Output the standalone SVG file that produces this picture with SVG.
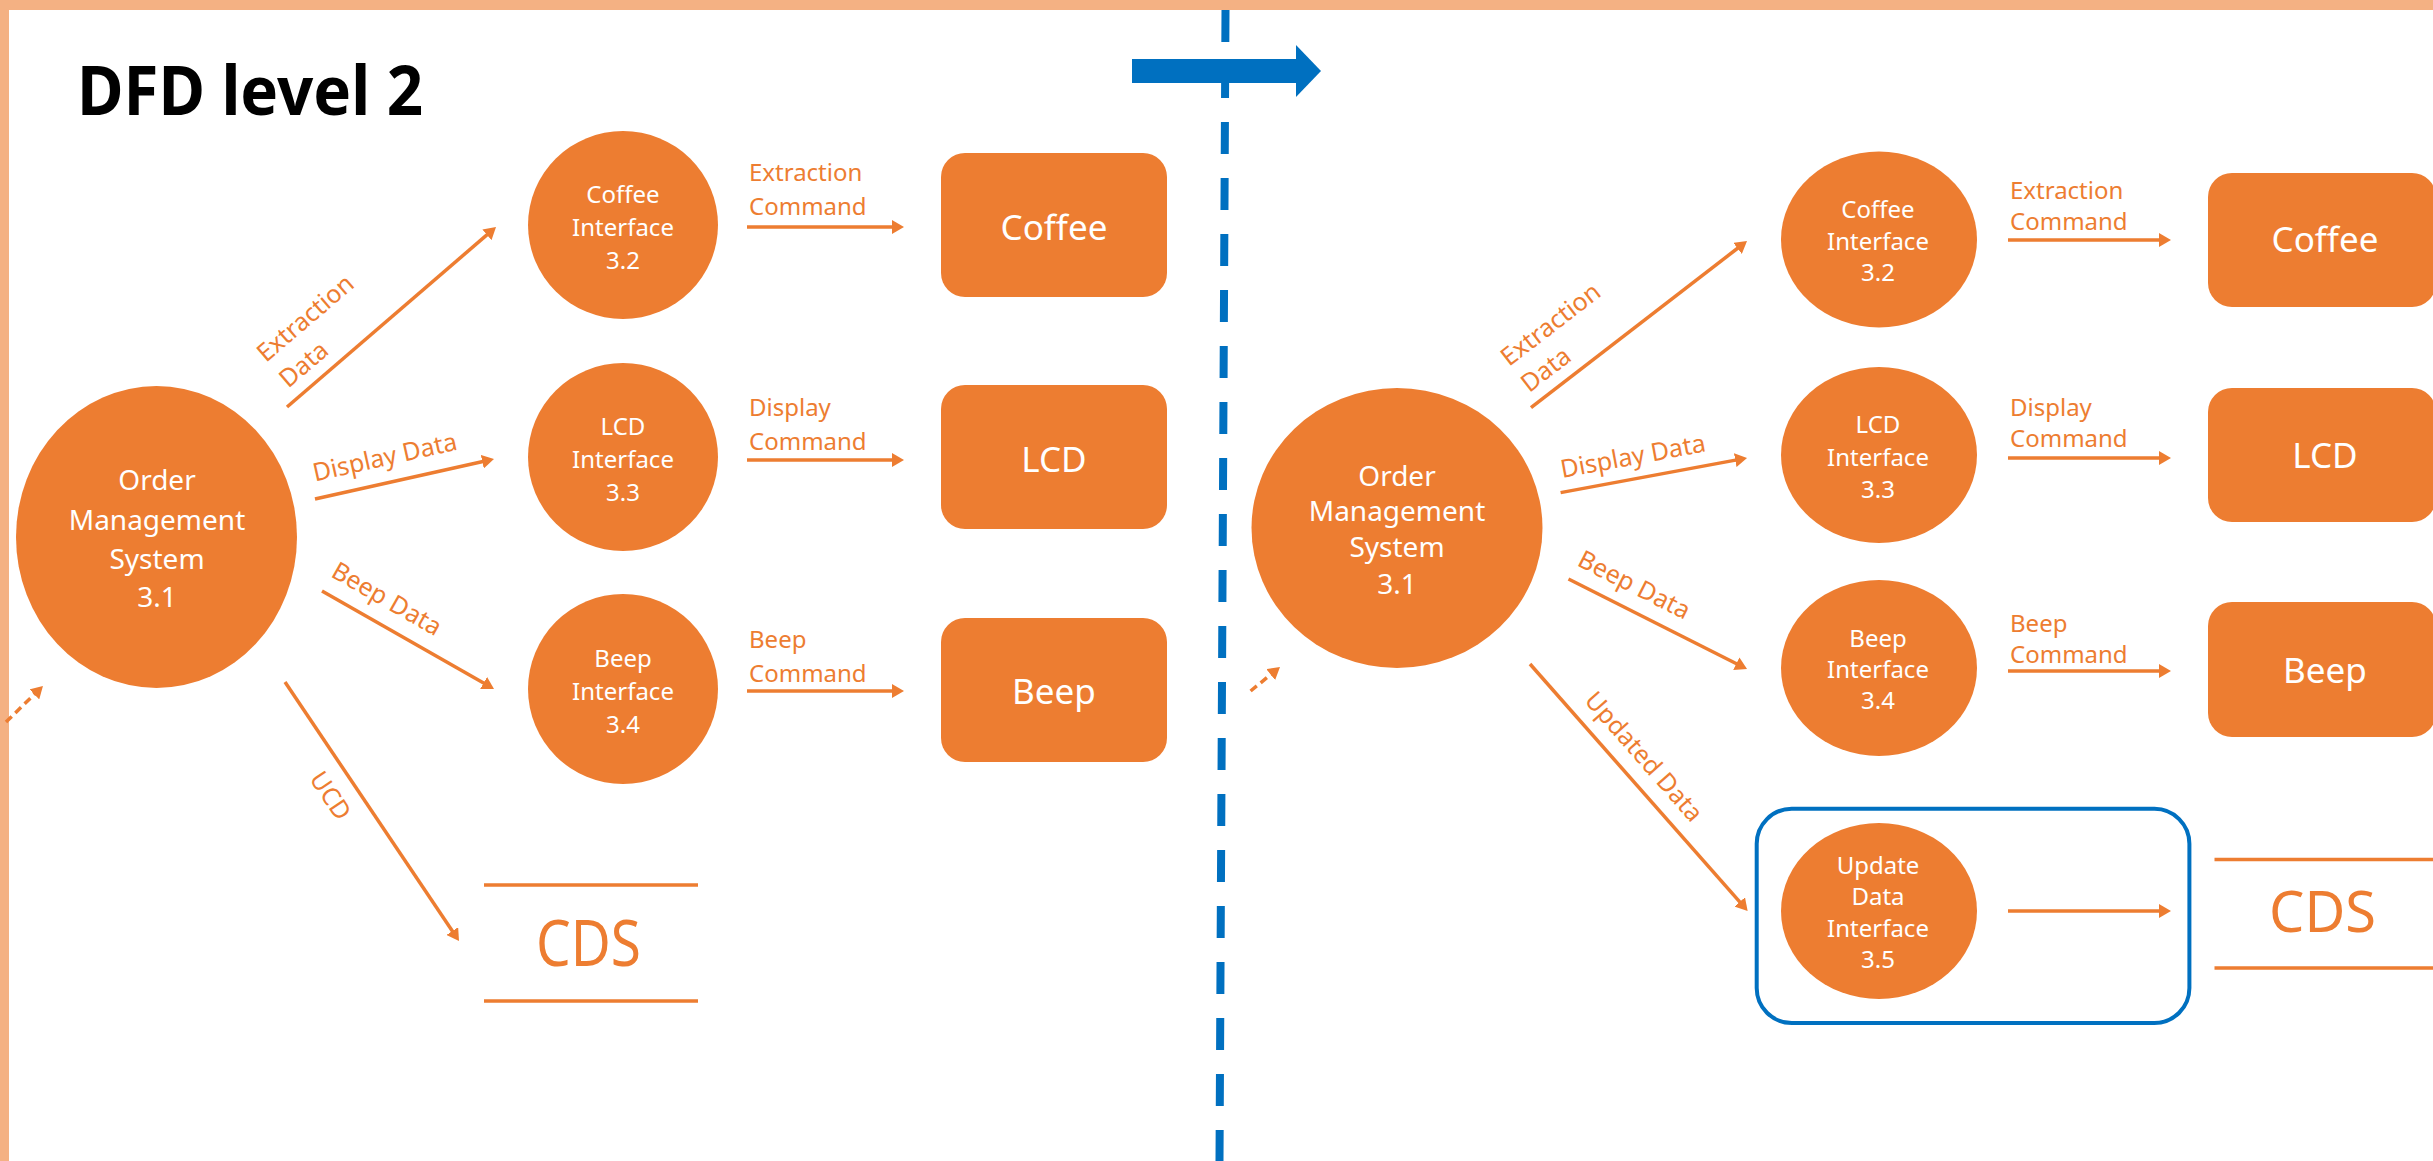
<svg xmlns="http://www.w3.org/2000/svg" width="2433" height="1161" viewBox="0 0 2433 1161">
<defs>
<style>
.nd{fill:#ED7D31}
.wt{fill:#FFFFFF;font-family:"Noto Sans","Open Sans",sans-serif;text-anchor:middle}
.ci{font-size:24px}
.om{font-size:28px}
.bx{font-size:35px}
.lbl{fill:#ED7D31;font-family:"Noto Sans","Open Sans",sans-serif;font-size:25px}
.cmd{fill:#ED7D31;font-family:"Noto Sans","Open Sans",sans-serif;font-size:24px}
.mid{text-anchor:middle}
.flow{stroke:#ED7D31;stroke-width:3.5;fill:none;marker-end:url(#ah)}
.dsh{stroke-dasharray:8 5}
.store{stroke:#ED7D31;stroke-width:3.5}
.cds{fill:#ED7D31;font-family:"Noto Sans","Open Sans",sans-serif;text-anchor:middle}
</style>
<marker id="ah" markerUnits="userSpaceOnUse" viewBox="-3 -7 12 14" refX="0" refY="0" markerWidth="12" markerHeight="14" orient="auto"><path d="M-3,-7 L9,0 L-3,7 z" fill="#ED7D31"/></marker>
</defs>
<rect x="0" y="0" width="2433" height="1161" fill="#FFFFFF"/>
<rect x="0" y="0" width="2433" height="10" fill="#F4B183"/>
<rect x="0" y="0" width="9" height="1161" fill="#F4B183"/>

<text x="77" y="115" font-family="Noto Sans, Open Sans, sans-serif" font-weight="700" font-size="68" textLength="346" lengthAdjust="spacingAndGlyphs" fill="#000000">DFD level 2</text>

<!-- divider and transition arrow -->
<g id="divider">
<line x1="1225.5" y1="10" x2="1219.5" y2="1161" stroke="#0070C0" stroke-width="8" stroke-dasharray="32 24"/>
<rect x="1132" y="59" width="165" height="24" fill="#0070C0"/>
<polygon points="1296,45 1321,71 1296,97" fill="#0070C0"/>
</g>

<!-- connectors -->
<g id="connectors">
<line class="flow" x1="287" y1="407" x2="489.2" y2="232.9"/>
<line class="flow" x1="315" y1="499" x2="485.2" y2="461"/>
<line class="flow" x1="322" y1="591" x2="486.2" y2="684.5"/>
<line class="flow" x1="285" y1="682" x2="454" y2="933.5"/>
<line class="flow" x1="747" y1="227" x2="895" y2="227"/>
<line class="flow" x1="747" y1="460" x2="895" y2="460"/>
<line class="flow" x1="747" y1="691" x2="895" y2="691"/>
<line class="flow dsh" x1="6" y1="722" x2="36.5" y2="692.3"/>

<line class="flow" x1="1531" y1="407.6" x2="1739.9" y2="246.5"/>
<line class="flow" x1="1560.6" y1="492.6" x2="1738.2" y2="459.6"/>
<line class="flow" x1="1568.5" y1="579" x2="1739" y2="665"/>
<line class="flow" x1="1530" y1="664" x2="1741.7" y2="904.2"/>
<line class="flow" x1="2008" y1="240" x2="2162" y2="240"/>
<line class="flow" x1="2008" y1="458" x2="2162" y2="458"/>
<line class="flow" x1="2008" y1="671" x2="2162" y2="671"/>
<line class="flow" x1="2008" y1="911" x2="2162" y2="911"/>
<line class="flow dsh" x1="1250.6" y1="691" x2="1273" y2="672.7"/>

<text class="lbl" transform="translate(266,363) rotate(-40.6)"><tspan x="0" y="0">Extraction</tspan><tspan x="0" y="34">Data</tspan></text>
<text class="lbl mid" transform="translate(386.7,465.5) rotate(-12.6)">Display Data</text>
<text class="lbl mid" transform="translate(382.5,606.2) rotate(29.7)">Beep Data</text>
<text class="lbl mid" transform="translate(323.4,800.5) rotate(56.1)">UCD</text>
<text class="cmd"><tspan x="749" y="181">Extraction</tspan><tspan x="749" y="215">Command</tspan></text>
<text class="cmd"><tspan x="749" y="416">Display</tspan><tspan x="749" y="450">Command</tspan></text>
<text class="cmd"><tspan x="749" y="648">Beep</tspan><tspan x="749" y="682">Command</tspan></text>

<text class="lbl" transform="translate(1509,367) rotate(-37.6)"><tspan x="0" y="0">Extraction</tspan><tspan x="0" y="33">Data</tspan></text>
<text class="lbl mid" transform="translate(1634.5,464.7) rotate(-10.5)">Display Data</text>
<text class="lbl mid" transform="translate(1630.4,592.5) rotate(26.8)">Beep Data</text>
<text class="lbl mid" transform="translate(1637.5,762.3) rotate(48.6)">Updated Data</text>
<text class="cmd"><tspan x="2010" y="199">Extraction</tspan><tspan x="2010" y="230">Command</tspan></text>
<text class="cmd"><tspan x="2010" y="416">Display</tspan><tspan x="2010" y="447">Command</tspan></text>
<text class="cmd"><tspan x="2010" y="632">Beep</tspan><tspan x="2010" y="663">Command</tspan></text>
</g>

<!-- left (before) nodes -->
<g id="oms-left">
<ellipse class="nd" cx="156.5" cy="537" rx="140.5" ry="151"/>
<text class="wt om"><tspan x="157" y="490">Order</tspan><tspan x="157" y="530">Management</tspan><tspan x="157" y="569">System</tspan><tspan x="157" y="607">3.1</tspan></text>
</g>
<g id="coffee-if-left">
<ellipse class="nd" cx="623" cy="225" rx="95" ry="94"/>
<text class="wt ci"><tspan x="623" y="203">Coffee</tspan><tspan x="623" y="236">Interface</tspan><tspan x="623" y="269">3.2</tspan></text>
</g>
<g id="lcd-if-left">
<ellipse class="nd" cx="623" cy="457" rx="95" ry="94"/>
<text class="wt ci"><tspan x="623" y="435">LCD</tspan><tspan x="623" y="468">Interface</tspan><tspan x="623" y="501">3.3</tspan></text>
</g>
<g id="beep-if-left">
<ellipse class="nd" cx="623" cy="689" rx="95" ry="95"/>
<text class="wt ci"><tspan x="623" y="667">Beep</tspan><tspan x="623" y="700">Interface</tspan><tspan x="623" y="733">3.4</tspan></text>
</g>
<g id="coffee-left">
<rect class="nd" x="941" y="153" width="226" height="144" rx="24"/>
<text class="wt bx" x="1054" y="240">Coffee</text>
</g>
<g id="lcd-left">
<rect class="nd" x="941" y="385" width="226" height="144" rx="24"/>
<text class="wt bx" x="1054" y="472">LCD</text>
</g>
<g id="beep-left">
<rect class="nd" x="941" y="618" width="226" height="144" rx="24"/>
<text class="wt bx" x="1054" y="704">Beep</text>
</g>
<g id="cds-left">
<line class="store" x1="484" y1="885" x2="698" y2="885"/>
<line class="store" x1="484" y1="1001" x2="698" y2="1001"/>
<text class="cds" x="588.5" y="965.5" font-size="64" textLength="105" lengthAdjust="spacingAndGlyphs">CDS</text>
</g>

<!-- right (after) nodes -->
<g id="oms-right">
<ellipse class="nd" cx="1397" cy="528" rx="145.5" ry="140"/>
<text class="wt om"><tspan x="1397" y="485.5">Order</tspan><tspan x="1397" y="521">Management</tspan><tspan x="1397" y="557">System</tspan><tspan x="1397" y="594">3.1</tspan></text>
</g>
<g id="coffee-if-right">
<ellipse class="nd" cx="1879" cy="239.5" rx="98" ry="88"/>
<text class="wt ci"><tspan x="1878" y="218">Coffee</tspan><tspan x="1878" y="250">Interface</tspan><tspan x="1878" y="281">3.2</tspan></text>
</g>
<g id="lcd-if-right">
<ellipse class="nd" cx="1879" cy="455" rx="98" ry="88"/>
<text class="wt ci"><tspan x="1878" y="433">LCD</tspan><tspan x="1878" y="466">Interface</tspan><tspan x="1878" y="498">3.3</tspan></text>
</g>
<g id="beep-if-right">
<ellipse class="nd" cx="1879" cy="668" rx="98" ry="88"/>
<text class="wt ci"><tspan x="1878" y="647">Beep</tspan><tspan x="1878" y="678">Interface</tspan><tspan x="1878" y="709">3.4</tspan></text>
</g>
<g id="update-if-right">
<rect x="1756.7" y="808.8" width="432.7" height="214.2" rx="35" fill="none" stroke="#0070C0" stroke-width="4"/>
<ellipse class="nd" cx="1879" cy="911" rx="98" ry="88"/>
<text class="wt ci"><tspan x="1878" y="874">Update</tspan><tspan x="1878" y="905">Data</tspan><tspan x="1878" y="937">Interface</tspan><tspan x="1878" y="968">3.5</tspan></text>
</g>
<g id="coffee-right">
<rect class="nd" x="2208" y="173" width="228" height="134" rx="24"/>
<text class="wt bx" x="2325" y="252">Coffee</text>
</g>
<g id="lcd-right">
<rect class="nd" x="2208" y="388" width="228" height="134" rx="24"/>
<text class="wt bx" x="2325" y="468">LCD</text>
</g>
<g id="beep-right">
<rect class="nd" x="2208" y="602" width="228" height="135" rx="24"/>
<text class="wt bx" x="2325" y="682.5">Beep</text>
</g>
<g id="cds-right">
<line class="store" x1="2214.5" y1="859.6" x2="2433" y2="859.6"/>
<line class="store" x1="2214.5" y1="968" x2="2433" y2="968"/>
<text class="cds" x="2322.5" y="932" font-size="57" textLength="107" lengthAdjust="spacingAndGlyphs">CDS</text>
</g>
</svg>
